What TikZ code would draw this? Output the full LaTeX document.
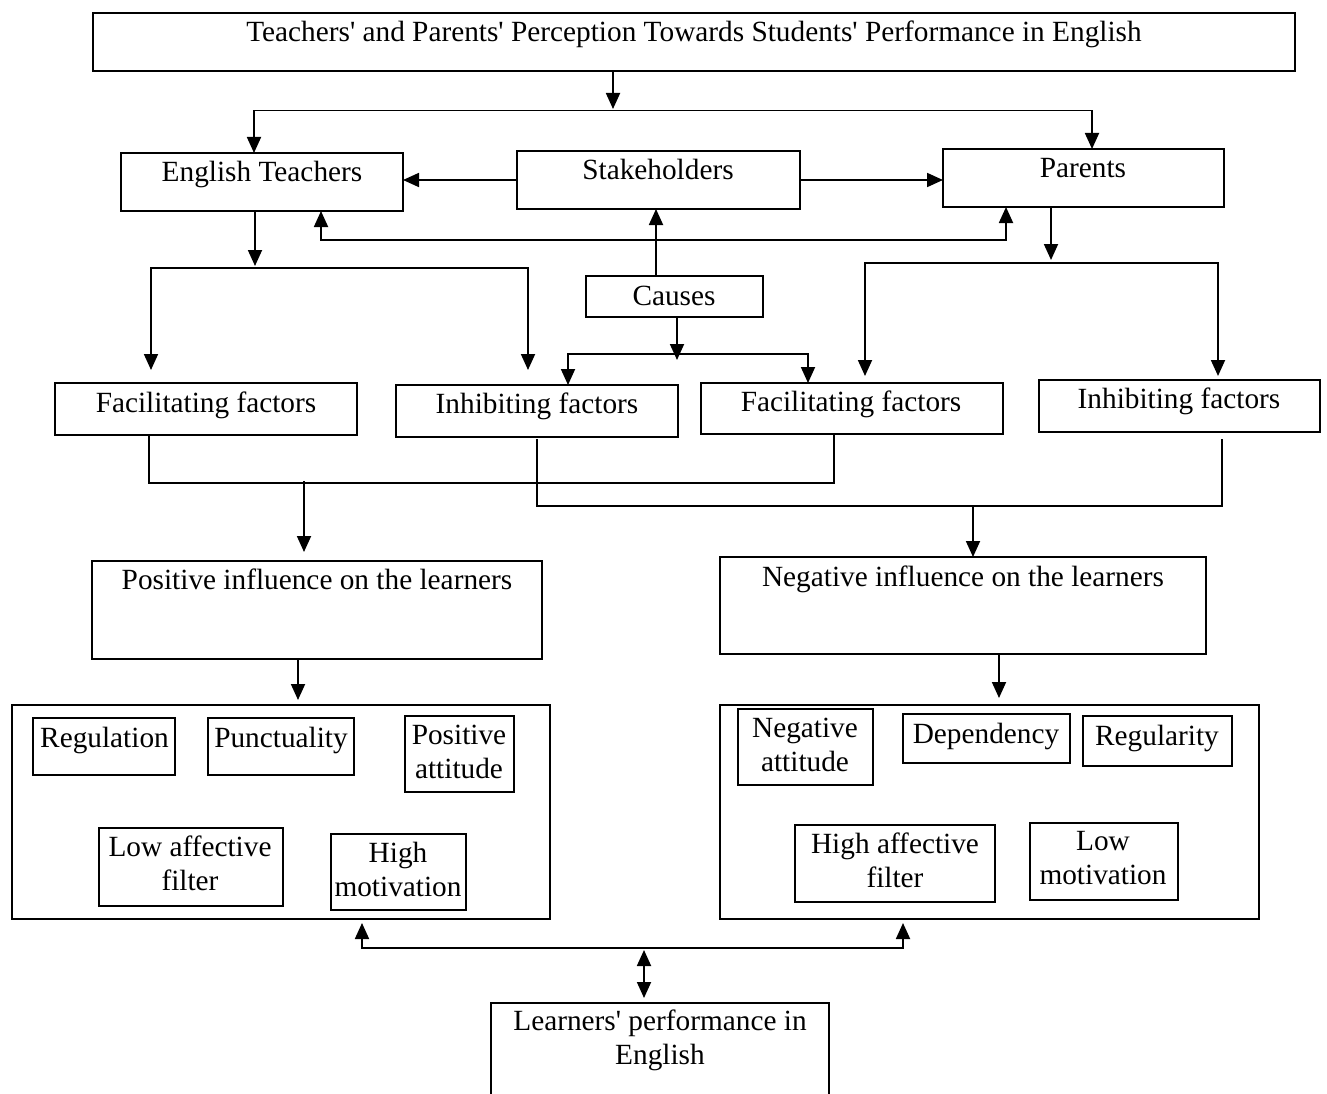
\documentclass[tikz,border=0pt]{standalone}
\usepackage{fontspec}
\setmainfont{Liberation Serif}
\usetikzlibrary{arrows.meta,calc}
\newcommand\qq{\textquotesingle}
\newcommand\mybox[5]{\node[box, minimum width={#4-#2}, minimum height={#5-#3}] (#1) at ({(#2+#4)/2},{(#3+#5)/2}) {};}
\begin{document}
\begin{tikzpicture}[x=1pt,y=-1pt,
 box/.style={draw, line width=1.8pt, inner sep=0pt, outer sep=0pt},
 txt/.style={font=\fontsize{29.3}{34}\selectfont, inner sep=0pt, anchor=base},
 ln/.style={line width=1.8pt},
 arr/.style={line width=1.8pt, -{Triangle[length=16pt,width=14pt]}},
 arrs/.style={line width=1.8pt, {Triangle[length=16pt,width=14pt]}-{Triangle[length=16pt,width=14pt]}}]
\useasboundingbox (0,0) rectangle (1327,1094);
\fill[white] (0,0) rectangle (1327,1094);
\clip (0,0) rectangle (1327,1094);
% boxes
\mybox{title}{93}{13}{1295}{71}
\mybox{et}{121}{153}{403}{211}
\mybox{sh}{517}{151}{800}{209}
\mybox{par}{943}{149}{1224}{207}
\mybox{cau}{586}{276}{763}{317}
\mybox{ff1}{55}{383}{357}{435}
\mybox{if1}{396}{385}{678}{437}
\mybox{ff2}{701}{383}{1003}{434}
\mybox{if2}{1039}{380}{1320}{432}
\mybox{pos}{92}{561}{542}{659}
\mybox{neg}{720}{557}{1206}{654}
\mybox{pbox}{12}{705}{550}{919}
\mybox{nbox}{720}{705}{1259}{919}
\mybox{reg}{33}{718}{175}{775}
\mybox{pun}{208}{718}{354}{775}
\mybox{patt}{405}{716}{514}{792}
\mybox{laf}{99}{828}{283}{906}
\mybox{hmo}{331}{834}{466}{910}
\mybox{natt}{738}{709}{873}{785}
\mybox{dep}{903}{714}{1070}{763}
\mybox{regu}{1083}{716}{1232}{766}
\mybox{haf}{795}{825}{995}{902}
\mybox{lmo}{1030}{823}{1178}{900}
\mybox{lp}{491}{1003}{829}{1110}
% texts
\node[txt] (title-t) at (694,42) {Teachers\qq{} and Parents\qq{} Perception Towards Students\qq{} Performance in English};
\node[txt] (et-t) at (262,182) {English Teachers};
\node[txt] (sh-t) at (658,180) {Stakeholders};
\node[txt] (par-t) at (1083,178) {Parents};
\node[txt] (cau-t) at (674,305) {Causes};
\node[txt] (ff1-t) at (206,412) {Facilitating factors};
\node[txt] (if1-t) at (537,413) {Inhibiting factors};
\node[txt] (ff2-t) at (851,411) {Facilitating factors};
\node[txt] (if2-t) at (1179,408) {Inhibiting factors};
\node[txt] (pos-t) at (317,589) {Positive influence on the learners};
\node[txt] (neg-t) at (963,586) {Negative influence on the learners};
\node[txt] (reg-t) at (104.5,747) {Regulation};
\node[txt] (pun-t) at (281,747) {Punctuality};
\node[txt] (patt-t) at (459,744) {\begin{tabular}[t]{@{}c@{}}Positive\\attitude\end{tabular}};
\node[txt] (laf-t) at (190,856) {\begin{tabular}[t]{@{}c@{}}Low affective\\filter\end{tabular}};
\node[txt] (hmo-t) at (398,862) {\begin{tabular}[t]{@{}c@{}}High\\motivation\end{tabular}};
\node[txt] (natt-t) at (805,737) {\begin{tabular}[t]{@{}c@{}}Negative\\attitude\end{tabular}};
\node[txt] (dep-t) at (986,743) {Dependency};
\node[txt] (regu-t) at (1157,745) {Regularity};
\node[txt] (haf-t) at (895,853) {\begin{tabular}[t]{@{}c@{}}High affective\\filter\end{tabular}};
\node[txt] (lmo-t) at (1103,850) {\begin{tabular}[t]{@{}c@{}}Low\\motivation\end{tabular}};
\node[txt] (lp-t) at (660,1030) {\begin{tabular}[t]{@{}c@{}}Learners\qq{} performance in\\English\end{tabular}};
% junctions
\coordinate (j1) at (613,110.5);
\coordinate (j2) at (656,240);
\coordinate (j3) at (255,268);
\coordinate (j4) at (677,354);
\coordinate (j5) at (1051,263);
\coordinate (j6) at (304,483);
\coordinate (j7) at (973,506);
\coordinate (j8) at (644,948);
% connectors
\draw[arr] ([xshift=-81]title.south) -- ++(0,38);
\draw[arr] (j1) -| ([xshift=-8]et.north);
\draw[arr] (j1) -| ([xshift=8.5]par.north);
\draw[arr] (sh.west) -- (sh.west -| et.east);
\draw[arr] (sh.east) -- (sh.east -| par.west);
\draw[arr] ([xshift=-18.5]cau.north) -- ([xshift=-18.5]cau.north |- sh.south);
\draw[arr] (j2) -| ([xshift=59]et.south);
\draw[arr] (j2) -| ([xshift=-77.5]par.south);
\draw[arr] ([xshift=-7]et.south) -- ++(0,55);
\draw[arr] (j3) -| ([xshift=-55,yshift=13]ff1.north);
\draw[arr] (j3) -| ([xshift=-9,yshift=15]if1.north);
\draw[arr] ([xshift=2.5]cau.south) -- ++(0,43);
\draw[arr] (j4) -| ([xshift=31]if1.north);
\draw[arr] (j4) -| ([xshift=-44]ff2.north);
\draw[arr] ([xshift=-32.5]par.south) -- ++(0,53);
\draw[arr] (j5) -| ([xshift=13,yshift=7]ff2.north);
\draw[arr] (j5) -| ([xshift=38.5,yshift=4]if2.north);
\draw[ln] ([xshift=-57]ff1.south) -- ++(0,48) -| ([xshift=-18]ff2.south);
\draw[arr] ([yshift=2]j6) -- ([xshift=-13,yshift=9]pos.north);
\draw[ln] ([yshift=-2]if1.south) -- ++(0,67) -| ([xshift=42.5,yshift=-7]if2.south);
\draw[arr] (j7) -- ([xshift=10]neg.north);
\draw[arr] ([xshift=-19]pos.south) -- ([xshift=17,yshift=5]pbox.north);
\draw[arr] ([xshift=36]neg.south) -- ([xshift=9.5,yshift=7]nbox.north);
\draw[arr] (j8) -| ([xshift=81,yshift=-4]pbox.south);
\draw[arr] (j8) -| ([xshift=-86.5,yshift=-4]nbox.south);
\draw[arrs] ([yshift=-2]j8) -- ([xshift=-16,yshift=5]lp.north);
\end{tikzpicture}
\end{document}
